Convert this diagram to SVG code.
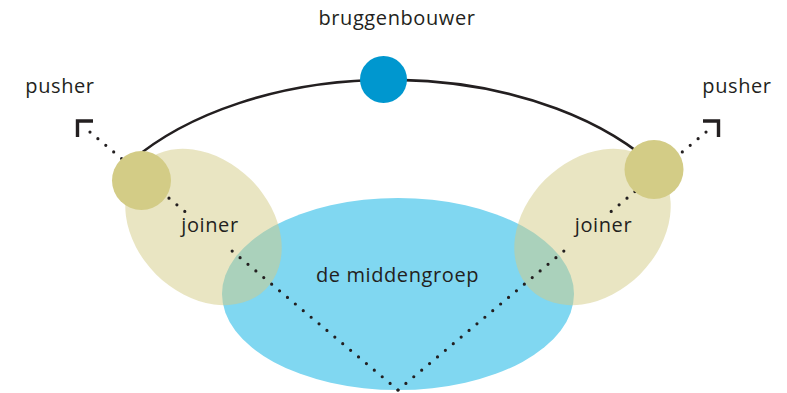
<svg xmlns="http://www.w3.org/2000/svg" width="787" height="393" viewBox="0 0 787 393">
<style>
text{font-family:"Open Sans","Noto Sans","Liberation Sans",sans-serif;font-size:20px;fill:#231f20;letter-spacing:0.6px}
.dots{fill:none;stroke:#231f20;stroke-width:3.2;stroke-linecap:round;stroke-dasharray:0 10.3}
.arrow{fill:none;stroke:#231f20;stroke-width:3.4;stroke-linecap:butt;stroke-linejoin:miter}
.small{fill:#d3cc86}
.zone{fill:#d3cb86;fill-opacity:0.5}
</style>
<rect width="787" height="393" fill="#ffffff"/>
<g id="middengroep">
<ellipse cx="398" cy="294" rx="176" ry="96" fill="#80d7f1"/>
</g>
<g id="zone-left">
<ellipse class="zone" cx="203.5" cy="227" rx="88" ry="67" transform="rotate(45 203.5 227)"/>
</g>
<g id="zone-right">
<ellipse class="zone" cx="592.5" cy="227" rx="88" ry="67" transform="rotate(-45 592.5 227)"/>
</g>
<g id="connectors">
<path d="M 130 162 A 320 197 0 0 1 660 171" fill="none" stroke="#231f20" stroke-width="2.6"/>
<path class="dots" d="M 398 390 L 224.3 244.5"/>
<path class="dots" d="M 184.8 211.4 L 82.1 125.5"/>
<path class="dots" d="M 398 390 L 571.7 244.5"/>
<path class="dots" d="M 611.2 211.4 L 713.9 125.5"/>
<path class="arrow" d="M 93 121 H 77.5 V 137"/>
<path class="arrow" d="M 703 121 H 718.5 V 137"/>
</g>
<g id="joiner-left-node"><circle class="small" cx="141.5" cy="180.5" r="29.5"/></g>
<g id="joiner-right-node"><circle class="small" cx="654" cy="169.5" r="29.5"/></g>
<g id="bruggenbouwer-node"><circle cx="383.5" cy="79.5" r="23.5" fill="#0097cf"/></g>
<g id="labels">
<text x="397" y="25" text-anchor="middle">bruggenbouwer</text>
<text x="60" y="93" text-anchor="middle">pusher</text>
<text x="737" y="93" text-anchor="middle">pusher</text>
<text x="210" y="232" text-anchor="middle">joiner</text>
<text x="603.5" y="232" text-anchor="middle">joiner</text>
<text x="397.5" y="282" text-anchor="middle">de middengroep</text>
</g>
</svg>
